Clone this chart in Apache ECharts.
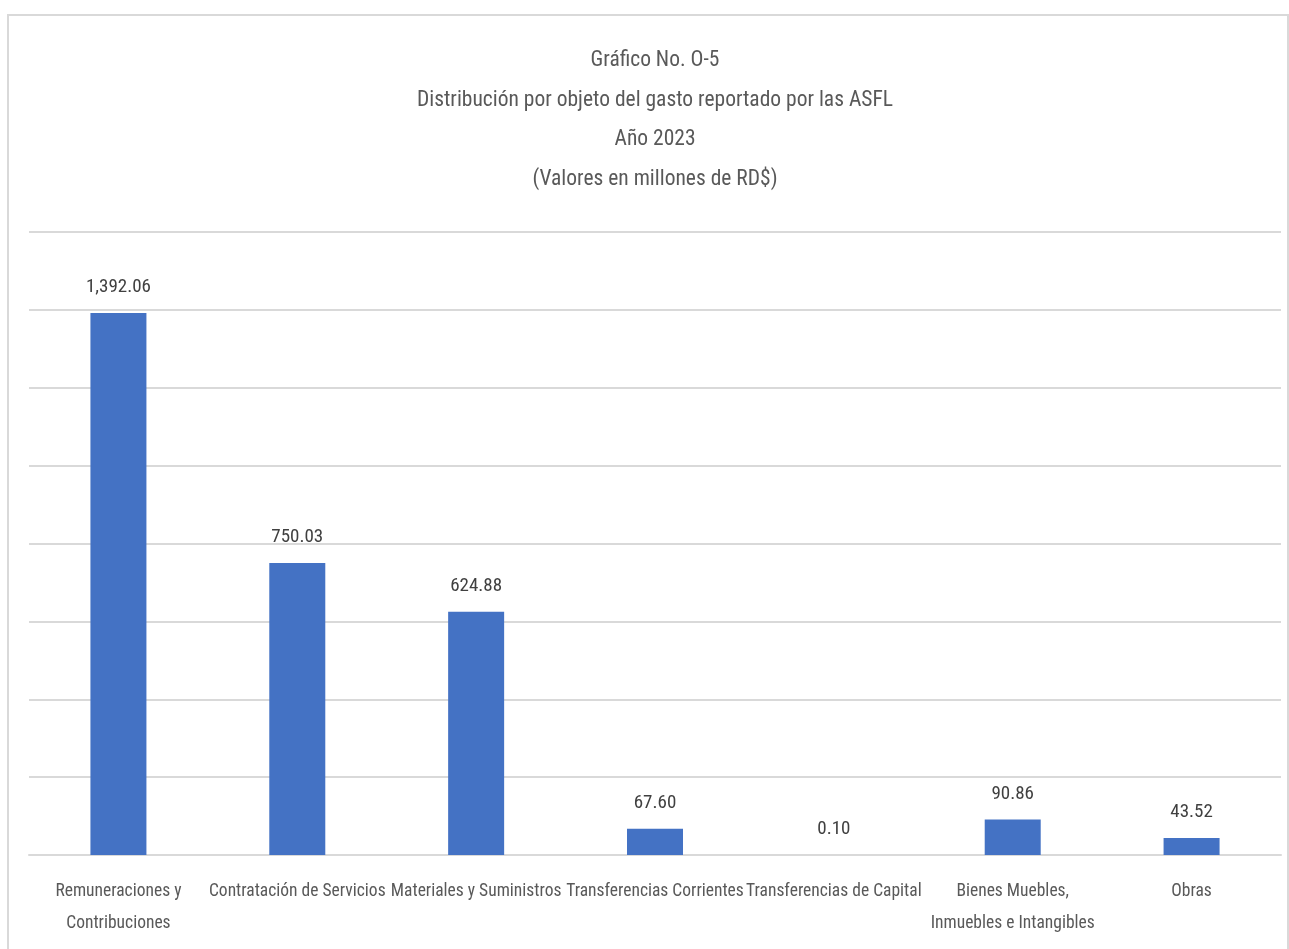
<!DOCTYPE html>
<html>
<head>
<meta charset="utf-8">
<script src="https://cdn.jsdelivr.net/npm/echarts@6/dist/echarts.min.js"></script>
<style>
  html, body { margin: 0; padding: 0; background: #fff; }
  #main { width: 1289px; height: 949px; }
</style>
</head>
<body>
<div id="main"></div>
<script>
// datos del gráfico
var categorias = [
    'Remuneraciones y\nContribuciones',
    'Contratación de Servicios',
    'Materiales y Suministros',
    'Transferencias Corrientes',
    'Transferencias de Capital',
    'Bienes Muebles,\nInmuebles e Intangibles',
    'Obras'
];
var valores = [1392.06, 750.03, 624.88, 67.60, 0.10, 90.86, 43.52];
var titulo = 'Gráfico No. O-5\nDistribución por objeto del gasto reportado por las ASFL\nAño 2023\n(Valores en millones de RD$)';

var fuente = '"Liberation Sans Narrow", "Roboto Condensed", "Arial Narrow", sans-serif';

var myChart = echarts.init(document.getElementById('main'));

var option = {
    backgroundColor: '#fff',
    animation: false,
    textStyle: { fontFamily: fuente },
    title: {
        text: titulo,
        left: 650,
        top: 36,
        textAlign: 'center',
        textStyle: {
            color: '#595959',
            fontSize: 21.5,
            fontWeight: 'normal',
            lineHeight: 39.6,
            fontFamily: fuente
        }
    },
    graphic: [{
        type: 'rect',
        shape: { x: 8, y: 15, width: 1280, height: 945 },
        style: { fill: 'none', stroke: '#d9d9d9', lineWidth: 2 },
        silent: true
    }],
    grid: { left: 29, right: 8, top: 232, bottom: 94 },
    xAxis: {
        type: 'category',
        data: categorias,
        axisLine: { lineStyle: { color: '#d9d9d9', width: 2 } },
        axisTick: { show: false },
        axisLabel: {
            interval: 0,
            color: '#595959',
            fontSize: 17.5,
            lineHeight: 32,
            margin: 21,
            fontFamily: fuente
        }
    },
    yAxis: {
        type: 'value',
        min: 0,
        max: 1600,
        interval: 200,
        axisLabel: { show: false },
        axisLine: { show: false },
        axisTick: { show: false },
        splitLine: { lineStyle: { color: '#d9d9d9', width: 2 } }
    },
    series: [{
        type: 'bar',
        data: valores,
        barWidth: 56,
        itemStyle: { color: '#4472C4' },
        label: {
            show: true,
            position: 'top',
            distance: 16,
            color: '#404040',
            fontSize: 19,
            fontFamily: fuente,
            formatter: function (p) {
                return p.value.toLocaleString('en-US', { minimumFractionDigits: 2, maximumFractionDigits: 2 });
            }
        }
    }]
};

myChart.setOption(option);
</script>
</body>
</html>
